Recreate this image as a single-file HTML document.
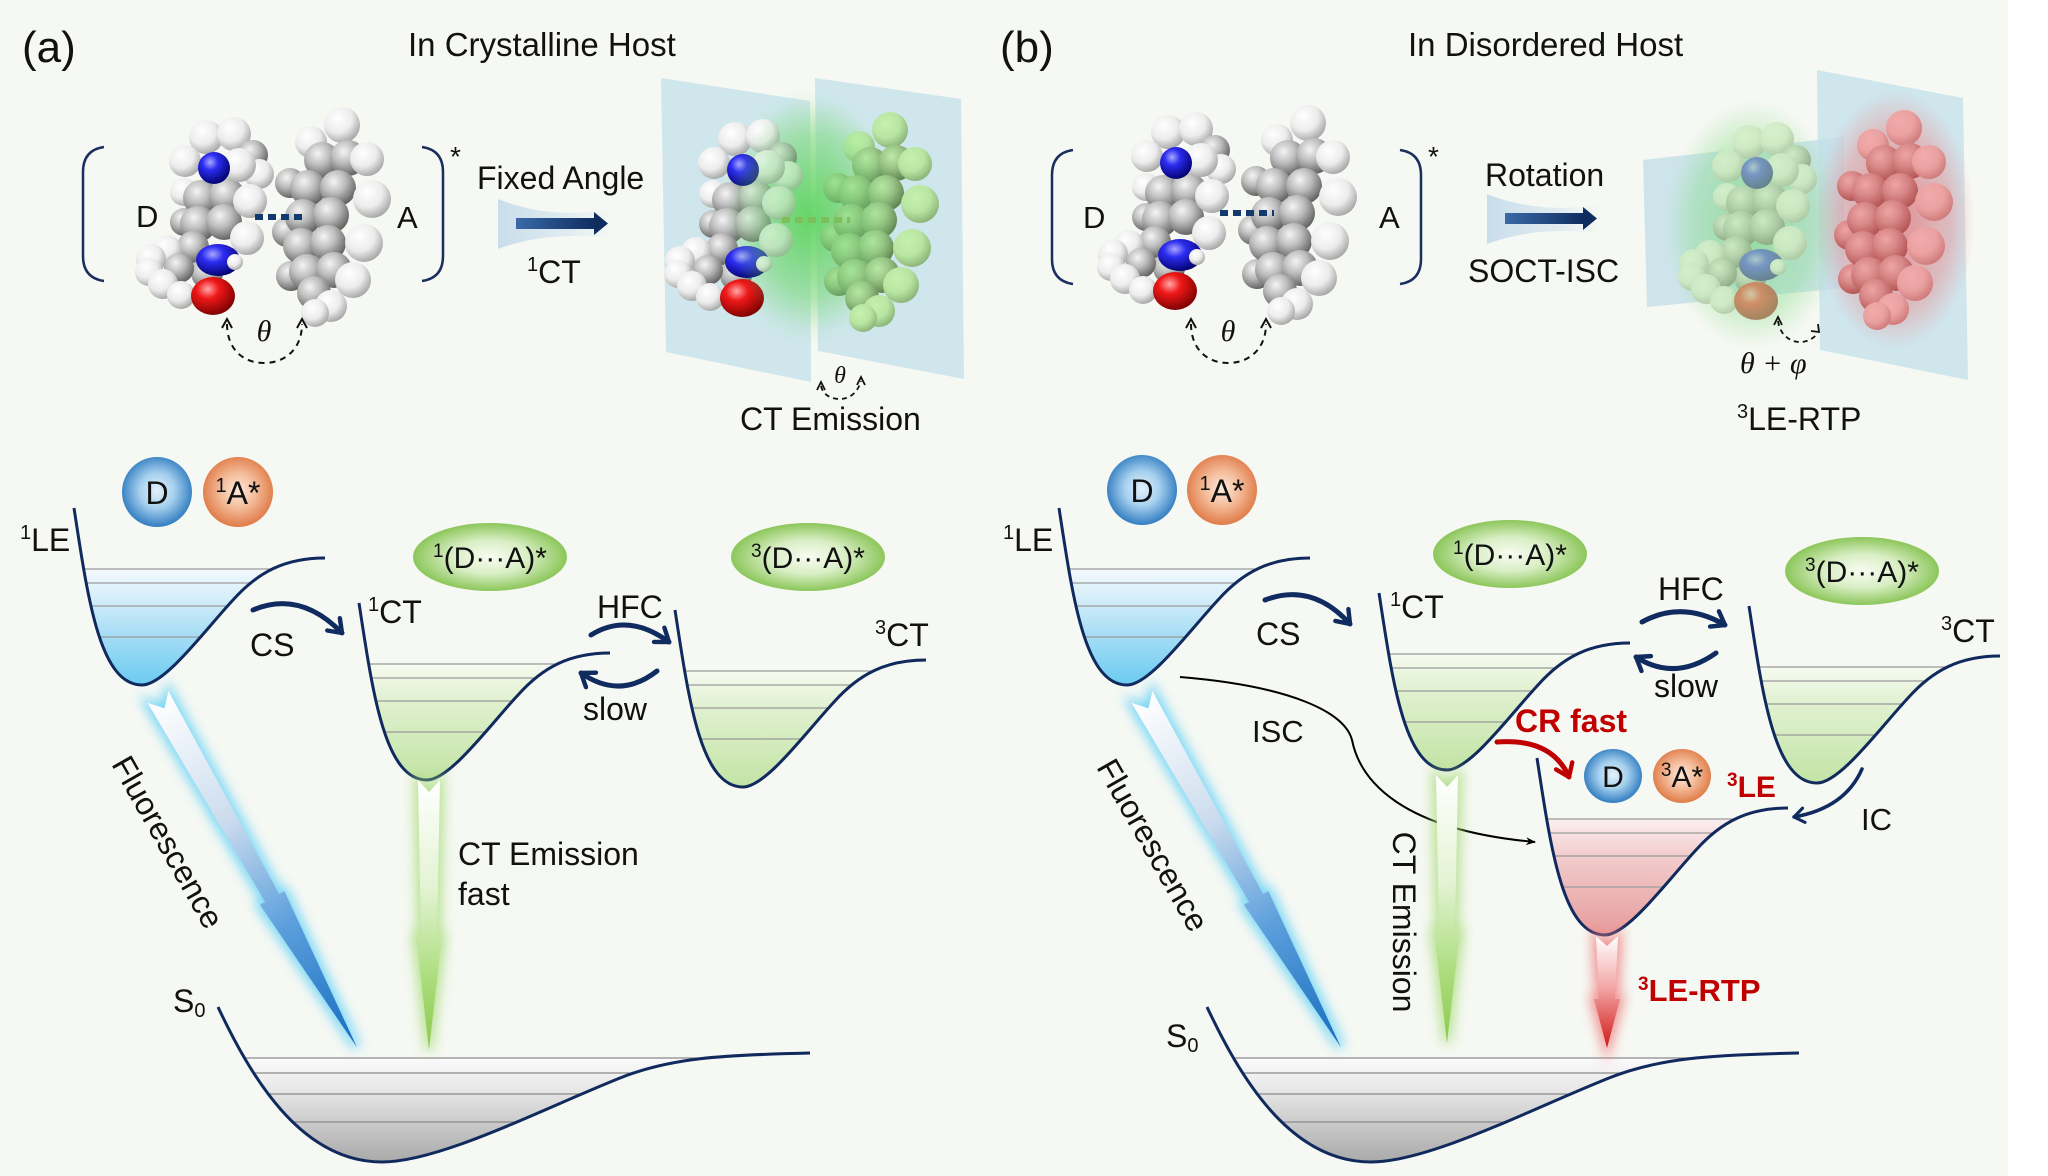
<!DOCTYPE html>
<html><head><meta charset="utf-8">
<style>
html,body{margin:0;padding:0;background:#ffffff;}
svg{display:block;}
text{font-family:"Liberation Sans",Arial,sans-serif;fill:#111;}
.sf{font-family:"Liberation Serif","DejaVu Serif",serif;font-style:italic;}
</style></head><body>
<svg width="2048" height="1176" viewBox="0 0 2048 1176" xmlns="http://www.w3.org/2000/svg">
<defs>
 <radialGradient id="gC" cx="0.38" cy="0.32" r="0.72"><stop offset="0" stop-color="#f4f4f4"/><stop offset="0.45" stop-color="#bdbdbd"/><stop offset="1" stop-color="#5c5c5c"/></radialGradient>
 <radialGradient id="gH" cx="0.38" cy="0.32" r="0.72"><stop offset="0" stop-color="#ffffff"/><stop offset="0.55" stop-color="#ececec"/><stop offset="1" stop-color="#a2a2a2"/></radialGradient>
 <radialGradient id="gN" cx="0.38" cy="0.32" r="0.72"><stop offset="0" stop-color="#a8a8ff"/><stop offset="0.35" stop-color="#2c2cf0"/><stop offset="1" stop-color="#00006a"/></radialGradient>
 <radialGradient id="gO" cx="0.38" cy="0.32" r="0.72"><stop offset="0" stop-color="#ffa8a8"/><stop offset="0.35" stop-color="#f01818"/><stop offset="1" stop-color="#780000"/></radialGradient>

 <linearGradient id="fB" x1="0" y1="0" x2="0" y2="1"><stop offset="0" stop-color="#f4fafd"/><stop offset="0.25" stop-color="#d4edf9"/><stop offset="0.55" stop-color="#a6ddf5"/><stop offset="1" stop-color="#66c9f0"/></linearGradient>
 <linearGradient id="fG" x1="0" y1="0" x2="0" y2="1"><stop offset="0" stop-color="#f6faf0"/><stop offset="0.3" stop-color="#e0f1d0"/><stop offset="1" stop-color="#c2e3a3"/></linearGradient>
 <linearGradient id="fR" x1="0" y1="0" x2="0" y2="1"><stop offset="0" stop-color="#fbefef"/><stop offset="0.3" stop-color="#f3cdcd"/><stop offset="1" stop-color="#e59999"/></linearGradient>
 <linearGradient id="fS" x1="0" y1="0" x2="0" y2="1"><stop offset="0" stop-color="#fbfbfb"/><stop offset="0.3" stop-color="#e6e6e6"/><stop offset="1" stop-color="#a4a4a4"/></linearGradient>

 <radialGradient id="eG" cx="0.5" cy="0.5" r="0.5"><stop offset="0" stop-color="#f8fcf2"/><stop offset="0.5" stop-color="#d8eec4"/><stop offset="1" stop-color="#8cc65a"/></radialGradient>
 <radialGradient id="cB" cx="0.5" cy="0.48" r="0.5"><stop offset="0" stop-color="#e4f1fb"/><stop offset="0.5" stop-color="#a6d0ee"/><stop offset="1" stop-color="#3a83c4"/></radialGradient>
 <radialGradient id="cO" cx="0.5" cy="0.48" r="0.5"><stop offset="0" stop-color="#fde9dd"/><stop offset="0.5" stop-color="#f4bc9a"/><stop offset="1" stop-color="#e1804e"/></radialGradient>

 <linearGradient id="aG" x1="0" y1="0" x2="0" y2="1"><stop offset="0" stop-color="#ffffff"/><stop offset="0.4" stop-color="#e3f3d3"/><stop offset="0.75" stop-color="#a9dc7a"/><stop offset="1" stop-color="#8cc84e"/></linearGradient>
 <linearGradient id="aB" x1="0" y1="0" x2="0" y2="1"><stop offset="0" stop-color="#ffffff"/><stop offset="0.35" stop-color="#ccdcee"/><stop offset="0.65" stop-color="#5c9fdc"/><stop offset="1" stop-color="#176cbf"/></linearGradient>
 <linearGradient id="aR" x1="0" y1="0" x2="0" y2="1"><stop offset="0" stop-color="#ffffff"/><stop offset="0.45" stop-color="#f3a8a8"/><stop offset="1" stop-color="#cf1616"/></linearGradient>

 <linearGradient id="blk" x1="0" y1="0" x2="1" y2="0"><stop offset="0" stop-color="#3a6aa8"/><stop offset="1" stop-color="#0e2c5e"/></linearGradient>
 <linearGradient id="halo" x1="0" y1="0" x2="1" y2="0"><stop offset="0" stop-color="#c6dcea" stop-opacity="0.95"/><stop offset="0.55" stop-color="#d6e6f0" stop-opacity="0.7"/><stop offset="1" stop-color="#f6f8f3" stop-opacity="0"/></linearGradient>

 <radialGradient id="glG" cx="0.5" cy="0.5" r="0.5"><stop offset="0" stop-color="#3fcf3f" stop-opacity="0.8"/><stop offset="0.5" stop-color="#6ad66a" stop-opacity="0.45"/><stop offset="1" stop-color="#8ee08e" stop-opacity="0"/></radialGradient>
 <radialGradient id="glG2" cx="0.5" cy="0.5" r="0.5"><stop offset="0" stop-color="#6ad66a" stop-opacity="0.6"/><stop offset="0.7" stop-color="#7ed87e" stop-opacity="0.35"/><stop offset="1" stop-color="#8ee08e" stop-opacity="0"/></radialGradient>
 <radialGradient id="glR" cx="0.5" cy="0.5" r="0.5"><stop offset="0" stop-color="#f05050" stop-opacity="0.6"/><stop offset="0.7" stop-color="#f07070" stop-opacity="0.35"/><stop offset="1" stop-color="#f08080" stop-opacity="0"/></radialGradient>

 <filter id="blur" x="-50%" y="-50%" width="200%" height="200%"><feGaussianBlur stdDeviation="6"/></filter>
 <filter id="tintG" color-interpolation-filters="sRGB"><feColorMatrix type="matrix" values="0.65 0 0 0 0.12  0 0.7 0 0 0.25  0 0 0.6 0 0.08  0 0 0 1 0"/></filter>
 <filter id="tintPG" color-interpolation-filters="sRGB"><feColorMatrix type="matrix" values="0.5 0 0 0 0.35  0 0.5 0 0 0.45  0 0 0.5 0 0.30  0 0 0 1 0"/></filter>
 <filter id="tintR" color-interpolation-filters="sRGB"><feColorMatrix type="matrix" values="0.4 0 0 0 0.55  0 0.55 0 0 0.12  0 0 0.55 0 0.12  0 0 0 1 0"/></filter>

 <marker id="mN" viewBox="0 0 20 20" refX="15" refY="10" markerWidth="22" markerHeight="22" markerUnits="userSpaceOnUse" orient="auto"><path d="M4,2 L15,10 L4,18" fill="none" stroke="#0f2b5f" stroke-width="4" stroke-linecap="round" stroke-linejoin="round"/></marker>
 <marker id="mNs" viewBox="0 0 20 20" refX="15" refY="10" markerWidth="18" markerHeight="18" markerUnits="userSpaceOnUse" orient="auto"><path d="M4,2 L15,10 L4,18" fill="none" stroke="#0f2b5f" stroke-width="3.5" stroke-linecap="round" stroke-linejoin="round"/></marker>
 <marker id="mR" viewBox="0 0 20 20" refX="15" refY="10" markerWidth="22" markerHeight="22" markerUnits="userSpaceOnUse" orient="auto"><path d="M4,2 L15,10 L4,18" fill="none" stroke="#c00000" stroke-width="4" stroke-linecap="round" stroke-linejoin="round"/></marker>
 <marker id="mK" viewBox="0 0 10 10" refX="9" refY="5" markerWidth="10" markerHeight="10" markerUnits="userSpaceOnUse" orient="auto"><path d="M0,1 L10,5 L0,9 L3,5Z" fill="#000"/></marker>

 <g id="don">
  <circle cx="206" cy="137" r="17" fill="url(#gH)"/>
  <circle cx="234" cy="134" r="17" fill="url(#gH)"/>
  <circle cx="253" cy="155" r="15" fill="url(#gC)"/>
  <circle cx="185" cy="161" r="16" fill="url(#gH)"/>
  <circle cx="259" cy="174" r="15" fill="url(#gH)"/>
  <circle cx="184" cy="192" r="14" fill="url(#gH)"/>
  <circle cx="201" cy="198" r="18" fill="url(#gC)"/>
  <circle cx="227" cy="196" r="18" fill="url(#gC)"/>
  <circle cx="239" cy="165" r="17" fill="url(#gH)"/>
  <circle cx="214" cy="168" r="16" fill="url(#gN)"/>
  <circle cx="184" cy="222" r="14" fill="url(#gC)"/>
  <circle cx="198" cy="224" r="18" fill="url(#gC)"/>
  <circle cx="224" cy="222" r="18" fill="url(#gC)"/>
  <circle cx="250" cy="201" r="17" fill="url(#gH)"/>
  <circle cx="247" cy="238" r="17" fill="url(#gH)"/>
  <circle cx="193" cy="247" r="16" fill="url(#gC)"/>
  <circle cx="207" cy="273" r="16" fill="url(#gC)"/>
  <circle cx="167" cy="250" r="15" fill="url(#gH)"/>
  <circle cx="151" cy="259" r="15" fill="url(#gH)"/>
  <circle cx="179" cy="268" r="15" fill="url(#gC)"/>
  <circle cx="149" cy="272" r="14" fill="url(#gH)"/>
  <circle cx="163" cy="284" r="15" fill="url(#gH)"/>
  <circle cx="181" cy="295" r="14" fill="url(#gH)"/>
  <ellipse cx="218" cy="260" rx="22" ry="16" fill="url(#gN)"/>
  <circle cx="235" cy="262" r="8" fill="url(#gH)"/>
  <ellipse cx="213" cy="296" rx="22" ry="19" fill="url(#gO)"/>
 </g>
 <g id="acc">
  <circle cx="311" cy="142" r="16" fill="url(#gH)"/>
  <circle cx="342" cy="125" r="18" fill="url(#gH)"/>
  <circle cx="290" cy="183" r="15" fill="url(#gC)"/>
  <circle cx="287" cy="232" r="15" fill="url(#gC)"/>
  <circle cx="291" cy="276" r="15" fill="url(#gC)"/>
  <circle cx="322" cy="160" r="18" fill="url(#gC)"/>
  <circle cx="348" cy="158" r="18" fill="url(#gC)"/>
  <circle cx="308" cy="188" r="18" fill="url(#gC)"/>
  <circle cx="338" cy="188" r="18" fill="url(#gC)"/>
  <circle cx="303" cy="217" r="18" fill="url(#gC)"/>
  <circle cx="331" cy="215" r="18" fill="url(#gC)"/>
  <circle cx="301" cy="246" r="18" fill="url(#gC)"/>
  <circle cx="328" cy="243" r="18" fill="url(#gC)"/>
  <circle cx="307" cy="272" r="18" fill="url(#gC)"/>
  <circle cx="334" cy="270" r="18" fill="url(#gC)"/>
  <circle cx="314" cy="293" r="17" fill="url(#gC)"/>
  <circle cx="367" cy="159" r="17" fill="url(#gH)"/>
  <circle cx="372" cy="199" r="19" fill="url(#gH)"/>
  <circle cx="364" cy="243" r="19" fill="url(#gH)"/>
  <circle cx="353" cy="280" r="18" fill="url(#gH)"/>
  <circle cx="331" cy="306" r="16" fill="url(#gH)"/>
  <circle cx="315" cy="313" r="14" fill="url(#gH)"/>
 </g>

 <path id="W" d="M74,508 C88,600 100,685 142,685 C165,685 205,630 233,600 C258,572 285,558 325,558"/>
 <clipPath id="wc"><path d="M74,508 C88,600 100,685 142,685 C165,685 205,630 233,600 C258,572 285,558 325,558 Z"/></clipPath>
 <path id="S" d="M218,1007 C250,1075 300,1162 382,1162 C440,1162 540,1110 620,1078 C670,1058 720,1055 810,1053"/>
 <clipPath id="sc"><path d="M218,1007 C250,1075 300,1162 382,1162 C440,1162 540,1110 620,1078 C670,1058 720,1055 810,1053 Z"/></clipPath>

 <g id="lev">
  <path d="M60,569H340 M60,583H340 M60,606H340 M60,637H340" stroke="#9a9a9a" stroke-width="1.2" fill="none"/>
 </g>
 <g id="slev">
  <path d="M200,1058H820 M200,1073H820 M200,1094H820 M200,1122H820" stroke="#8a8a8a" stroke-width="1.2" fill="none"/>
 </g>

 <polygon id="arG" points="-11,0 0,12 11,0 8,155 13,155 0,270 -13,155 -8,155"/>
 <polygon id="arG2" points="-11,0 0,12 11,0 8,155 13,155 0,268 -13,155 -8,155"/>
 <polygon id="arF" points="-12,0 0,13 12,0 8,231 14,231 0,403 -14,231 -8,231"/>
 <polygon id="arR" points="-11,0 0,10 11,0 8,63 13,63 0,112 -13,63 -8,63"/>
</defs>

<!-- background -->
<rect x="0" y="0" width="2008" height="1176" fill="#f6f8f3"/>

<!-- ===== Panel (a) top ===== -->
<text x="22" y="62" font-size="44">(a)</text>
<text x="408" y="56" font-size="33">In Crystalline Host</text>

<path d="M104,147 Q83,150 83,172 L83,256 Q83,278 104,281" fill="none" stroke="#1a2f5e" stroke-width="2.5"/>
<path d="M422,147 Q443,150 443,172 L443,256 Q443,278 422,281" fill="none" stroke="#1a2f5e" stroke-width="2.5"/>
<text x="136" y="227" font-size="31">D</text>
<text x="397" y="228" font-size="31">A</text>
<text x="450" y="166" font-size="28">*</text>

<use href="#don"/>
<use href="#acc"/>
<line x1="255" y1="217" x2="302" y2="217" stroke="#123a6e" stroke-width="6" stroke-dasharray="8 5"/>

<path d="M227,324 C227,348 242,363 264,363 C286,363 302,348 302,324" fill="none" stroke="#111" stroke-width="2" stroke-dasharray="6 5"/>
<path d="M222,328 L227,319 L232,328 M297,328 L302,319 L307,328" fill="none" stroke="#111" stroke-width="2"/>
<text x="264" y="341" font-size="30" class="sf" text-anchor="middle">θ</text>

<text x="477" y="189" font-size="32">Fixed Angle</text>
<path d="M498,199 Q555,222 628,207 L628,241 Q555,228 498,249 Z" fill="url(#halo)"/>
<rect x="516" y="218" width="80" height="11" fill="url(#blk)"/>
<polygon points="594,212 608,223.5 594,235" fill="#0e2c5e"/>
<text x="527" y="283" font-size="32"><tspan font-size="20" dy="-12">1</tspan><tspan dy="12">CT</tspan></text>

<polygon points="661,78 810,101 811,382 666,352" fill="#c8e3eb" opacity="0.85"/>
<polygon points="815,78 961,99 964,379 818,351" fill="#c8e3eb" opacity="0.85"/>
<ellipse cx="808" cy="218" rx="90" ry="130" fill="url(#glG)"/>
<use href="#don" transform="translate(529,2)"/>
<use href="#acc" transform="translate(548,5)" filter="url(#tintG)"/>
<ellipse cx="812" cy="215" rx="85" ry="115" fill="url(#glG2)"/>
<line x1="782" y1="220" x2="850" y2="220" stroke="#7cbf5c" stroke-width="6" stroke-dasharray="8 5"/>
<text x="840" y="383" font-size="24" class="sf" text-anchor="middle">θ</text>
<path d="M821,386 C823,395 831,399 840,399 C850,399 858,392 861,381" fill="none" stroke="#111" stroke-width="1.8" stroke-dasharray="5 4"/>
<path d="M817,390 L821,382 L825,390 M857,385 L861,377 L865,385" fill="none" stroke="#111" stroke-width="1.8"/>
<text x="740" y="430" font-size="32">CT Emission</text>

<!-- ===== Panel (b) top ===== -->
<text x="1000" y="62" font-size="44">(b)</text>
<text x="1408" y="56" font-size="33">In Disordered Host</text>
<path d="M1073,150 Q1052,153 1052,175 L1052,259 Q1052,281 1073,284" fill="none" stroke="#1a2f5e" stroke-width="2.5"/>
<path d="M1400,150 Q1421,153 1421,175 L1421,259 Q1421,281 1400,284" fill="none" stroke="#1a2f5e" stroke-width="2.5"/>
<text x="1083" y="228" font-size="31">D</text>
<text x="1379" y="228" font-size="31">A</text>
<text x="1428" y="166" font-size="28">*</text>
<use href="#don" transform="translate(962,-5)"/>
<use href="#acc" transform="translate(966,-2)"/>
<line x1="1220" y1="213" x2="1274" y2="213" stroke="#123a6e" stroke-width="6" stroke-dasharray="8 5"/>
<path d="M1191,324 C1191,348 1206,363 1228,363 C1250,363 1266,348 1266,324" fill="none" stroke="#111" stroke-width="2" stroke-dasharray="6 5"/>
<path d="M1186,328 L1191,319 L1196,328 M1261,328 L1266,319 L1271,328" fill="none" stroke="#111" stroke-width="2"/>
<text x="1228" y="341" font-size="30" class="sf" text-anchor="middle">θ</text>

<text x="1485" y="186" font-size="32">Rotation</text>
<path d="M1487,194 Q1544,217 1617,202 L1617,236 Q1544,223 1487,244 Z" fill="url(#halo)"/>
<rect x="1505" y="213" width="80" height="11" fill="url(#blk)"/>
<polygon points="1583,207 1597,218.5 1583,230" fill="#0e2c5e"/>
<text x="1468" y="282" font-size="32">SOCT-ISC</text>

<polygon points="1817,70 1963,98 1968,380 1820,350" fill="#c8e3eb" opacity="0.85"/>
<polygon points="1643,160 1844,137 1844,288 1647,307" fill="#c3dfe8" opacity="0.8"/>
<ellipse cx="1753" cy="225" rx="88" ry="125" fill="url(#glG2)"/>
<ellipse cx="1895" cy="220" rx="80" ry="130" fill="url(#glR)"/>
<use href="#don" transform="translate(1543,5)" filter="url(#tintPG)" opacity="0.85"/>
<use href="#acc" transform="translate(1562,3)" filter="url(#tintR)"/>
<path d="M1778,321 C1780,335 1790,342 1800,342 C1808,342 1814,338 1818,333" fill="none" stroke="#111" stroke-width="1.8" stroke-dasharray="5 4"/>
<path d="M1774,325 L1778,317 L1782,325 M1811,331 L1819,332 L1818,324" fill="none" stroke="#111" stroke-width="1.8"/>
<text x="1740" y="373" font-size="30" class="sf">θ + φ</text>
<text x="1737" y="430" font-size="32"><tspan font-size="20" dy="-12">3</tspan><tspan dy="12">LE-RTP</tspan></text>

<!-- ===== Energy diagram (a) ===== -->
<g>
 <g clip-path="url(#wc)"><rect x="60" y="569" width="280" height="120" fill="url(#fB)"/><use href="#lev"/></g>
 <use href="#W" fill="none" stroke="#102a5e" stroke-width="3"/>
</g>
<g transform="translate(285,95)">
 <g clip-path="url(#wc)"><rect x="60" y="569" width="280" height="120" fill="url(#fG)"/><use href="#lev"/></g>
 <use href="#W" fill="none" stroke="#102a5e" stroke-width="3"/>
</g>
<g transform="translate(601,102)">
 <g clip-path="url(#wc)"><rect x="60" y="569" width="280" height="120" fill="url(#fG)"/><use href="#lev"/></g>
 <use href="#W" fill="none" stroke="#102a5e" stroke-width="3"/>
</g>
<g>
 <g clip-path="url(#sc)"><rect x="200" y="1058" width="620" height="110" fill="url(#fS)"/><use href="#slev"/></g>
 <use href="#S" fill="none" stroke="#102a5e" stroke-width="3"/>
</g>

<circle cx="157" cy="492" r="35" fill="url(#cB)"/>
<circle cx="238" cy="492" r="35" fill="url(#cO)"/>
<text x="157" y="504" font-size="32" text-anchor="middle">D</text>
<text x="238" y="504" font-size="32" text-anchor="middle"><tspan font-size="20" dy="-12">1</tspan><tspan dy="12">A*</tspan></text>
<text x="20" y="551" font-size="32"><tspan font-size="20" dy="-12">1</tspan><tspan dy="12">LE</tspan></text>

<ellipse cx="490" cy="557" rx="77" ry="34" fill="url(#eG)"/>
<text x="490" y="568" font-size="30" text-anchor="middle"><tspan font-size="19" dy="-11">1</tspan><tspan dy="11">(D···A)*</tspan></text>
<ellipse cx="808" cy="557" rx="77" ry="34" fill="url(#eG)"/>
<text x="808" y="568" font-size="30" text-anchor="middle"><tspan font-size="19" dy="-11">3</tspan><tspan dy="11">(D···A)*</tspan></text>

<text x="368" y="623" font-size="32"><tspan font-size="20" dy="-12">1</tspan><tspan dy="12">CT</tspan></text>
<text x="875" y="646" font-size="32"><tspan font-size="20" dy="-12">3</tspan><tspan dy="12">CT</tspan></text>

<path d="M253,610 Q300,590 342,633" fill="none" stroke="#0f2b5f" stroke-width="5" stroke-linecap="round" marker-end="url(#mN)"/>
<text x="250" y="656" font-size="32">CS</text>
<path d="M591,635 Q628,612 669,642" fill="none" stroke="#0f2b5f" stroke-width="5" stroke-linecap="round" marker-end="url(#mN)"/>
<path d="M657,671 Q620,700 581,673" fill="none" stroke="#0f2b5f" stroke-width="5" stroke-linecap="round" marker-end="url(#mN)"/>
<text x="597" y="618" font-size="32">HFC</text>
<text x="583" y="720" font-size="32">slow</text>

<g transform="translate(158,697) rotate(-29.6)">
 <use href="#arF" fill="#5fd0f7" stroke="#5fd0f7" stroke-width="8" filter="url(#blur)" opacity="0.85"/>
 <use href="#arF" fill="url(#aB)"/>
</g>
<g transform="translate(429,780)">
 <use href="#arG" fill="#a6dc78" stroke="#a6dc78" stroke-width="8" filter="url(#blur)" opacity="0.8"/>
 <use href="#arG" fill="url(#aG)"/>
</g>
<text transform="translate(168,842) rotate(60.4)" font-size="32" text-anchor="middle" dy="0.35em">Fluorescence</text>
<text x="458" y="865" font-size="32">CT Emission</text>
<text x="458" y="905" font-size="32">fast</text>
<text x="173" y="1012" font-size="32">S<tspan font-size="20" dy="5">0</tspan></text>

<!-- ===== Energy diagram (b) ===== -->
<g transform="translate(985,0)">
 <g clip-path="url(#wc)"><rect x="60" y="569" width="280" height="120" fill="url(#fB)"/><use href="#lev"/></g>
 <use href="#W" fill="none" stroke="#102a5e" stroke-width="3"/>
</g>
<g transform="translate(1305,85)">
 <g clip-path="url(#wc)"><rect x="60" y="569" width="280" height="120" fill="url(#fG)"/><use href="#lev"/></g>
 <use href="#W" fill="none" stroke="#102a5e" stroke-width="3"/>
</g>
<g transform="translate(1675,98)">
 <g clip-path="url(#wc)"><rect x="60" y="569" width="280" height="120" fill="url(#fG)"/><use href="#lev"/></g>
 <use href="#W" fill="none" stroke="#102a5e" stroke-width="3"/>
</g>
<g transform="translate(1463,250)">
 <g clip-path="url(#wc)"><rect x="60" y="569" width="280" height="120" fill="url(#fR)"/><use href="#lev"/></g>
 <use href="#W" fill="none" stroke="#102a5e" stroke-width="3"/>
</g>
<g transform="translate(989,0)">
 <g clip-path="url(#sc)"><rect x="200" y="1058" width="620" height="110" fill="url(#fS)"/><use href="#slev"/></g>
 <use href="#S" fill="none" stroke="#102a5e" stroke-width="3"/>
</g>

<circle cx="1142" cy="490" r="35" fill="url(#cB)"/>
<circle cx="1222" cy="490" r="35" fill="url(#cO)"/>
<text x="1142" y="502" font-size="32" text-anchor="middle">D</text>
<text x="1222" y="502" font-size="32" text-anchor="middle"><tspan font-size="20" dy="-12">1</tspan><tspan dy="12">A*</tspan></text>
<text x="1003" y="551" font-size="32"><tspan font-size="20" dy="-12">1</tspan><tspan dy="12">LE</tspan></text>

<ellipse cx="1510" cy="554" rx="77" ry="34" fill="url(#eG)"/>
<text x="1510" y="565" font-size="30" text-anchor="middle"><tspan font-size="19" dy="-11">1</tspan><tspan dy="11">(D···A)*</tspan></text>
<ellipse cx="1862" cy="571" rx="77" ry="34" fill="url(#eG)"/>
<text x="1862" y="582" font-size="30" text-anchor="middle"><tspan font-size="19" dy="-11">3</tspan><tspan dy="11">(D···A)*</tspan></text>

<text x="1390" y="618" font-size="32"><tspan font-size="20" dy="-12">1</tspan><tspan dy="12">CT</tspan></text>
<text x="1941" y="642" font-size="32"><tspan font-size="20" dy="-12">3</tspan><tspan dy="12">CT</tspan></text>

<path d="M1265,600 Q1312,582 1350,624" fill="none" stroke="#0f2b5f" stroke-width="5" stroke-linecap="round" marker-end="url(#mN)"/>
<text x="1256" y="645" font-size="32">CS</text>
<path d="M1642,622 Q1682,600 1725,625" fill="none" stroke="#0f2b5f" stroke-width="5" stroke-linecap="round" marker-end="url(#mN)"/>
<path d="M1716,653 Q1675,682 1636,657" fill="none" stroke="#0f2b5f" stroke-width="5" stroke-linecap="round" marker-end="url(#mN)"/>
<text x="1658" y="600" font-size="32">HFC</text>
<text x="1654" y="697" font-size="32">slow</text>

<path d="M1180,677 C1290,686 1345,712 1352,740 C1360,780 1400,830 1535,842" fill="none" stroke="#000" stroke-width="2" marker-end="url(#mK)"/>
<text x="1252" y="742" font-size="31">ISC</text>

<g transform="translate(1142,697) rotate(-29.6)">
 <use href="#arF" fill="#5fd0f7" stroke="#5fd0f7" stroke-width="8" filter="url(#blur)" opacity="0.85"/>
 <use href="#arF" fill="url(#aB)"/>
</g>
<g transform="translate(1447,775)">
 <use href="#arG2" fill="#a6dc78" stroke="#a6dc78" stroke-width="8" filter="url(#blur)" opacity="0.8"/>
 <use href="#arG2" fill="url(#aG)"/>
</g>
<g transform="translate(1607,936)">
 <use href="#arR" fill="#f08080" stroke="#f08080" stroke-width="8" filter="url(#blur)" opacity="0.85"/>
 <use href="#arR" fill="url(#aR)"/>
</g>
<text transform="translate(1153,845) rotate(60.4)" font-size="32" text-anchor="middle" dy="0.35em">Fluorescence</text>
<text transform="translate(1393,922) rotate(90)" font-size="32" text-anchor="middle">CT Emission</text>

<text x="1515" y="732" font-size="32" font-weight="bold" style="fill:#c00000">CR fast</text>
<path d="M1497,742 Q1552,738 1569,777" fill="none" stroke="#c00000" stroke-width="5" stroke-linecap="round" marker-end="url(#mR)"/>
<ellipse cx="1613" cy="776" rx="29" ry="27" fill="url(#cB)"/>
<ellipse cx="1682" cy="776" rx="29" ry="27" fill="url(#cO)"/>
<text x="1613" y="787" font-size="30" text-anchor="middle">D</text>
<text x="1682" y="787" font-size="30" text-anchor="middle"><tspan font-size="19" dy="-11">3</tspan><tspan dy="11">A*</tspan></text>
<text x="1727" y="797" font-size="30" font-weight="bold" style="fill:#c00000"><tspan font-size="19" dy="-11">3</tspan><tspan dy="11">LE</tspan></text>

<path d="M1862,769 Q1845,808 1794,817" fill="none" stroke="#0f2b5f" stroke-width="3.5" stroke-linecap="round" marker-end="url(#mNs)"/>
<text x="1861" y="830" font-size="31">IC</text>

<text x="1638" y="1001" font-size="31" font-weight="bold" style="fill:#c00000"><tspan font-size="19" dy="-11">3</tspan><tspan dy="11">LE-RTP</tspan></text>
<text x="1166" y="1047" font-size="32">S<tspan font-size="20" dy="5">0</tspan></text>

</svg>
</body></html>
